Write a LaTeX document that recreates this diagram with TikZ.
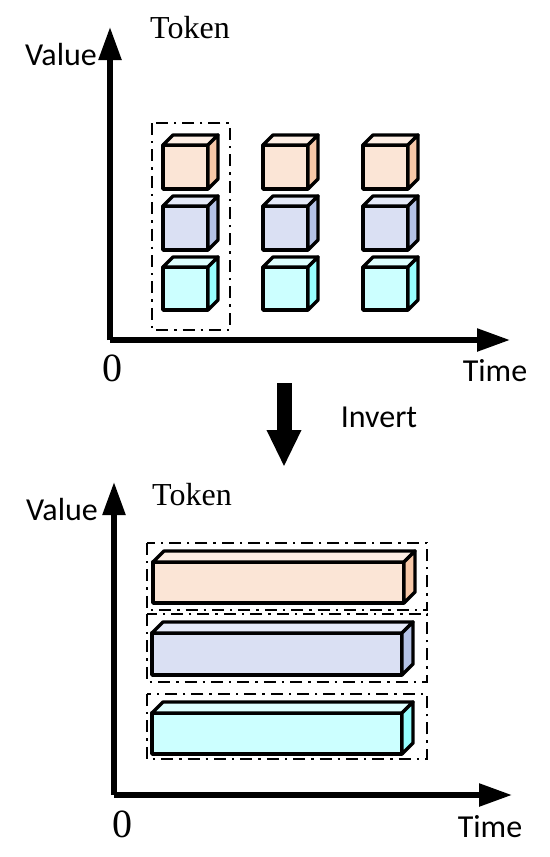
\documentclass[tikz,border=0pt]{standalone}
\usepackage{fontspec}
\setmainfont{Liberation Serif}
\newfontfamily\labelsans{Carlito}
\usetikzlibrary{arrows.meta}

\definecolor{orfront}{RGB}{251,229,214}
\definecolor{ortop}{RGB}{253,238,228}
\definecolor{orside}{RGB}{247,200,168}
\definecolor{blfront}{RGB}{218,224,243}
\definecolor{bltop}{RGB}{229,234,248}
\definecolor{blside}{RGB}{180,194,230}
\definecolor{cyfront}{RGB}{204,255,255}
\definecolor{cytop}{RGB}{222,255,255}
\definecolor{cyside}{RGB}{150,255,255}

\tikzset{
  axis/.style={line width=2.75pt, -{Triangle[length=16.5pt,width=11pt]}},
  groupbox/.style={line width=1.4pt, dash pattern=on 6pt off 3pt on 1.2pt off 3pt},
  face/.style={line width=1.7pt, line join=round},
  sanslabel/.style={inner sep=0pt, anchor=base, font=\labelsans\fontsize{16}{19}\selectfont},
  seriflabel/.style={inner sep=0pt, anchor=base, font=\fontsize{16}{19}\selectfont},
  zerolabel/.style={inner sep=0pt, anchor=base, font=\fontsize{20}{24}\selectfont}
}

% x, y, width, height, depth, colour
\newcommand{\tokenblock}[6]{
  \filldraw[face, fill=#6front] (#1,#2) rectangle (#1+#3,#2+#4);
  \filldraw[face, fill=#6top] (#1,#2) -- (#1+#5,#2-#5) -- (#1+#3+#5,#2-#5) -- (#1+#3,#2) -- cycle;
  \filldraw[face, fill=#6side] (#1+#3,#2) -- (#1+#3+#5,#2-#5) -- (#1+#3+#5,#2+#4-#5) -- (#1+#3,#2+#4) -- cycle;
}

\begin{document}
\begin{tikzpicture}[x=0.5pt, y=-0.5pt]
    \useasboundingbox (0,0) rectangle (550,857);

    % before
    \coordinate (oa) at (110,340);
    \coordinate (ya) at (110,27);
    \coordinate (xa) at (510,340);
    \draw[axis] (oa) -- (ya);
    \draw[axis] (oa) -- (xa);

    \node[sanslabel] at (61,65)   (valuea) {Value};
    \node[seriflabel] at (190,38) (tokena) {Token};
    \node[zerolabel] at (112,381) (zeroa)  {0};
    \node[sanslabel] at (495,381) (timea)  {Time};

    \draw[groupbox] (152,123) rectangle (230,330);

    \tokenblock{163}{145}{45}{44}{10}{or}
    \tokenblock{163}{206}{45}{44}{10}{bl}
    \tokenblock{163}{267}{45}{43}{10}{cy}
    \tokenblock{263}{145}{45}{44}{10}{or}
    \tokenblock{263}{206}{45}{44}{10}{bl}
    \tokenblock{263}{267}{45}{43}{10}{cy}
    \tokenblock{363}{145}{45}{44}{10}{or}
    \tokenblock{363}{206}{45}{44}{10}{bl}
    \tokenblock{363}{267}{45}{43}{10}{cy}

    % invert
    \coordinate (inva) at (284,383);
    \coordinate (invb) at (284,467);
    \draw[line width=7.5pt, -{Triangle[length=18.5pt,width=16pt]}] (inva) -- (invb);
    \node[sanslabel] at (379,427) (invert) {Invert};

    % after
    \coordinate (ob) at (114,795);
    \coordinate (yb) at (114,482);
    \coordinate (xb) at (512,795);
    \draw[axis] (ob) -- (yb);
    \draw[axis] (ob) -- (xb);

    \node[sanslabel] at (62,520)  (valueb) {Value};
    \node[seriflabel] at (192,505) (tokenb) {Token};
    \node[zerolabel] at (122,837) (zerob)  {0};
    \node[sanslabel] at (490,837) (timeb)  {Time};

    \draw[groupbox] (147,543) rectangle (427,610);
    \draw[groupbox] (147,614) rectangle (427,682);
    \draw[groupbox] (147,694) rectangle (427,759);

    \tokenblock{153}{562}{251}{41}{11}{or}
    \tokenblock{152}{633}{250}{42}{11}{bl}
    \tokenblock{152}{713}{250}{41}{11}{cy}
\end{tikzpicture}
\end{document}
